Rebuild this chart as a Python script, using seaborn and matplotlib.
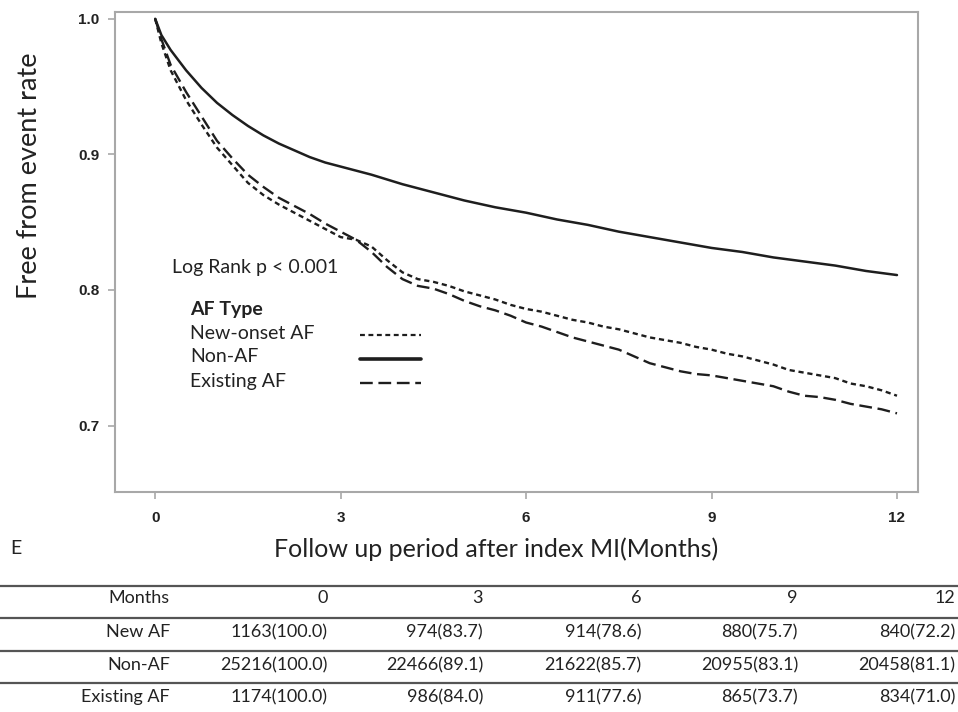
import matplotlib
matplotlib.use("Agg")
import matplotlib.pyplot as plt
from matplotlib.lines import Line2D
import seaborn as sns
import pandas as pd

# ---------------- data ----------------
af_months = [0, 0.1] + [0.25 * i for i in range(1, 49)]
new_af = [1.000, 0.982, 0.962, 0.940, 0.922, 0.905, 0.892, 0.879, 0.870, 0.863,
          0.857, 0.851, 0.845, 0.839, 0.837, 0.832, 0.822, 0.813, 0.808, 0.806,
          0.803, 0.799, 0.796, 0.793, 0.789, 0.786, 0.784, 0.781, 0.778, 0.776,
          0.773, 0.771, 0.768, 0.765, 0.763, 0.761, 0.758, 0.756, 0.753, 0.751,
          0.748, 0.745, 0.741, 0.739, 0.737, 0.735, 0.731, 0.729, 0.726, 0.722]
existing_af = [1.000, 0.985, 0.966, 0.946, 0.928, 0.910, 0.897, 0.885, 0.876, 0.868,
               0.862, 0.856, 0.849, 0.843, 0.837, 0.828, 0.817, 0.808, 0.803, 0.801,
               0.797, 0.792, 0.788, 0.785, 0.781, 0.776, 0.773, 0.769, 0.765, 0.762,
               0.759, 0.756, 0.751, 0.746, 0.743, 0.740, 0.738, 0.737, 0.735, 0.733,
               0.731, 0.729, 0.725, 0.722, 0.721, 0.719, 0.716, 0.714, 0.712, 0.709]
non_af_months = [0, 0.1] + [0.25 * i for i in range(1, 13)] + [3.0 + 0.5 * i for i in range(1, 19)]
non_af = [1.000, 0.988, 0.977, 0.962, 0.949, 0.938, 0.929, 0.921, 0.914, 0.908,
          0.903, 0.898, 0.894, 0.891, 0.885, 0.878, 0.872, 0.866, 0.861, 0.857,
          0.852, 0.848, 0.843, 0.839, 0.835, 0.831, 0.828, 0.824, 0.821, 0.818,
          0.814, 0.811]

x_ticks = [0, 3, 6, 9, 12]
y_ticks = [0.7, 0.8, 0.9, 1.0]
y_tick_labels = ["0.7", "0.8", "0.9", "1.0"]

legend_title = "AF Type"
legend_labels = ["New-onset AF", "Non-AF", "Existing AF"]

table_header = ["Months", "0", "3", "6", "9", "12"]
table_rows = [
    ["New AF", "1163(100.0)", "974(83.7)", "914(78.6)", "880(75.7)", "840(72.2)"],
    ["Non-AF", "25216(100.0)", "22466(89.1)", "21622(85.7)", "20955(83.1)", "20458(81.1)"],
    ["Existing AF", "1174(100.0)", "986(84.0)", "911(77.6)", "865(73.7)", "834(71.0)"],
]

# ---------------- style ----------------
sns.set_style("white")
plt.rcParams["font.family"] = ["Lato", "DejaVu Sans"]

W, H = 958, 712
fig = plt.figure(figsize=(W / 100, H / 100), dpi=100)


def fx(px):
    return px / W


def fy(py):
    return 1 - py / H


ax = fig.add_axes([fx(115), fy(492), fx(918) - fx(115), fy(12) - fy(492)])

curve_color = "#1e1e1e"
short_dash = (0, (2.2, 1.6))
long_dash = (0, (5.4, 2.4))

df_new = pd.DataFrame({"month": af_months, "rate": new_af})
df_exist = pd.DataFrame({"month": af_months, "rate": existing_af})
df_non = pd.DataFrame({"month": non_af_months, "rate": non_af})

sns.lineplot(data=df_non, x="month", y="rate", ax=ax, color=curve_color,
             linewidth=1.8, linestyle="-")
sns.lineplot(data=df_new, x="month", y="rate", ax=ax, color=curve_color,
             linewidth=1.7, linestyle=short_dash)
sns.lineplot(data=df_exist, x="month", y="rate", ax=ax, color=curve_color,
             linewidth=1.7, linestyle=long_dash)

ax.set_xlim(-0.65, 12.34)
ax.set_ylim(0.651, 1.005)
ax.set_xticks(x_ticks)
ax.set_xticklabels([str(t) for t in x_ticks], fontsize=11, fontweight="bold",
                   family=["Liberation Sans", "DejaVu Sans"], color="#222222")
ax.set_yticks(y_ticks)
ax.set_yticklabels(y_tick_labels, fontsize=11, fontweight="bold",
                   family=["Liberation Sans", "DejaVu Sans"], color="#222222")
ax.tick_params(axis="both", direction="out", length=5, width=1.2,
               color="#a8a8a8", left=True, bottom=True, pad=6)
ax.tick_params(axis="x", pad=9)
for s in ax.spines.values():
    s.set_color("#a8a8a8")
    s.set_linewidth(1.5)
ax.set_xlabel("")
ax.set_ylabel("")

# axis titles
fig.text(fx(30), fy(176), "Free from event rate", rotation=90, ha="center",
         va="center", fontsize=19.5, color="#222222")
fig.text(fx(496), fy(549), "Follow up period after index MI(Months)",
         ha="center", va="center", fontsize=18, color="#222222")
fig.text(fx(10), fy(549), "E", ha="left", va="center", fontsize=14, color="#222222")

# annotation + legend
fig.text(fx(172), fy(268), "Log Rank p < 0.001", ha="left", va="center",
         fontsize=14, color="#222222")
fig.text(fx(190), fy(310), legend_title, ha="left", va="center",
         fontsize=14, fontweight="bold", color="#222222")
leg_y = [333, 357, 381]
leg_styles = [(short_dash, 1.6), ("-", 2.6), (long_dash, 1.7)]
for lab, ly, (ls, lw) in zip(legend_labels, leg_y, leg_styles):
    fig.text(fx(190), fy(ly), lab, ha="left", va="center", fontsize=14,
             color="#222222")
    fig.add_artist(Line2D([fx(360), fx(421)], [fy(ly + 2), fy(ly + 2)],
                          color=curve_color, linestyle=ls, linewidth=lw))

# table
col_right = [170, 328, 483, 641, 798, 955]
row_y = [598, 632, 665, 697]
line_y = [586, 618, 651, 683]
for ly in line_y:
    fig.add_artist(Line2D([0, 1], [fy(ly), fy(ly)], color="#555555", linewidth=1.6))
all_rows = [table_header] + table_rows
for ry, row in zip(row_y, all_rows):
    for cx, cell in zip(col_right, row):
        fig.text(fx(cx), fy(ry), cell, ha="right", va="center", fontsize=13,
                 color="#222222")

fig.savefig("out.png", dpi=100)
